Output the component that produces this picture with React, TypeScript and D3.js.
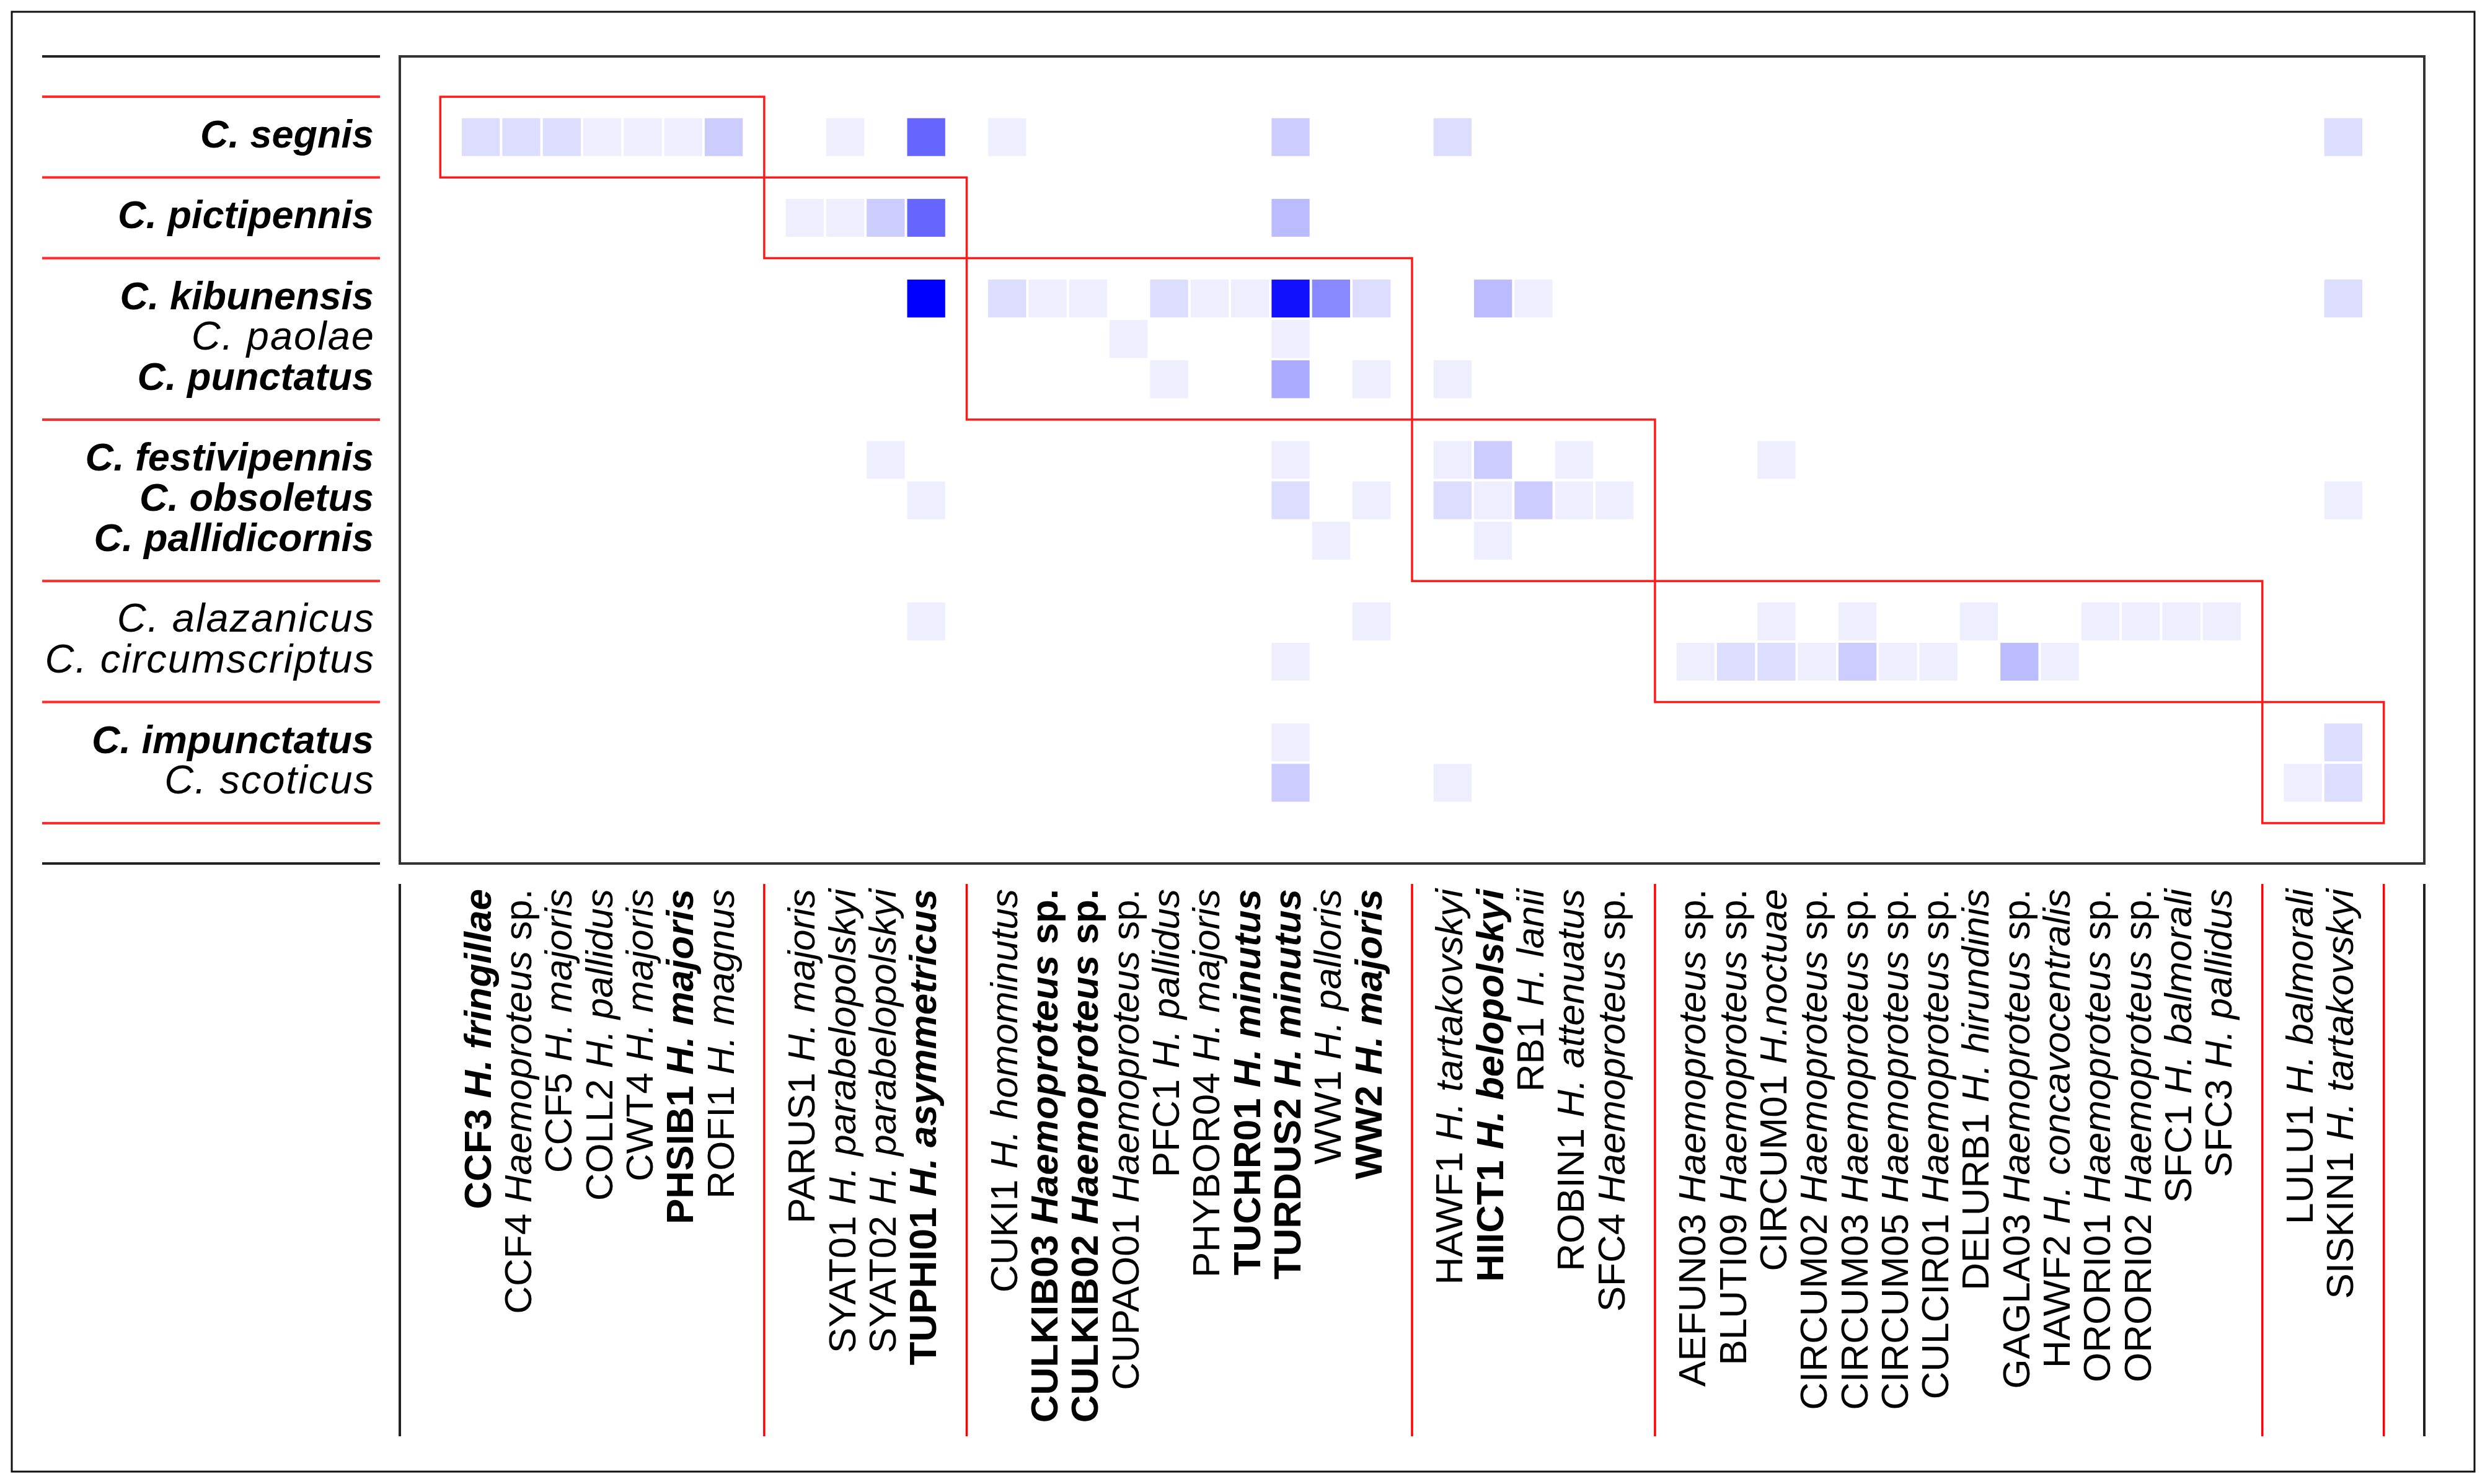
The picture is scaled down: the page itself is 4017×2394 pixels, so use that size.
import React from "react";
import * as d3 from "d3";

const W = 4017;
const H = 2394;
const FONT = "'Liberation Sans', Arial, Helvetica, sans-serif";

// ---- rows (vectors) ----
const rowNames = [
  "C. segnis", "C. pictipennis",
  "C. kibunensis", "C. paolae", "C. punctatus",
  "C. festivipennis", "C. obsoletus", "C. pallidicornis",
  "C. alazanicus", "C. circumscriptus",
  "C. impunctatus", "C. scoticus",
];
const rowBold = [true, true, true, false, true, true, true, true, false, false, true, false];
const rowGroupSizes = [1, 1, 3, 3, 2, 2];

// ---- columns (lineages) ----
const colIds = [
  "CCF3", "CCF4", "CCF5", "COLL2", "CWT4", "PHSIB1", "ROFI1",
  "PARUS1", "SYAT01", "SYAT02", "TUPHI01",
  "CUKI1", "CULKIB03", "CULKIB02", "CUPAO01", "PFC1", "PHYBOR04", "TUCHR01", "TURDUS2", "WW1", "WW2",
  "HAWF1", "HIICT1", "RB1", "ROBIN1", "SFC4",
  "AEFUN03", "BLUTI09", "CIRCUM01", "CIRCUM02", "CIRCUM03", "CIRCUM05", "CULCIR01", "DELURB1", "GAGLA03", "HAWF2", "ORORI01", "ORORI02", "SFC1", "SFC3",
  "LULU1", "SISKIN1",
];
const colSpecies = [
  "H. fringillae", "Haemoproteus sp.", "H. majoris", "H. pallidus", "H. majoris", "H. majoris", "H. magnus",
  "H. majoris", "H. parabelopolskyi", "H. parabelopolskyi", "H. asymmetricus",
  "H. homominutus", "Haemoproteus sp.", "Haemoproteus sp.", "Haemoproteus sp.", "H. pallidus", "H. majoris", "H. minutus", "H. minutus", "H. palloris", "H. majoris",
  "H. tartakovskyi", "H. belopolskyi", "H. lanii", "H. attenuatus", "Haemoproteus sp.",
  "Haemoproteus sp.", "Haemoproteus sp.", "H.noctuae", "Haemoproteus sp.", "Haemoproteus sp.", "Haemoproteus sp.", "Haemoproteus sp.", "H. hirundinis", "Haemoproteus sp.", "H. concavocentralis", "Haemoproteus sp.", "Haemoproteus sp.", "H. balmorali", "H. pallidus",
  "H. balmorali", "H. tartakovskyi",
];
const colBold = [
  true, false, false, false, false, true, false,
  false, false, false, true,
  false, true, true, false, false, false, true, true, false, true,
  false, true, false, false, false,
  false, false, false, false, false, false, false, false, false, false, false, false, false, false,
  false, false,
];
const colGroupSizes = [7, 4, 10, 5, 14, 2];

// ---- counts per vector row (42 lineages each) ----
const segnis =         [2, 2, 2, 1, 1, 1, 3, 0, 1, 0, 9, 1, 0, 0, 0, 0, 0, 0, 3, 0, 0, 2, 0, 0, 0, 0, 0, 0, 0, 0, 0, 0, 0, 0, 0, 0, 0, 0, 0, 0, 0, 2];
const pictipennis =    [0, 0, 0, 0, 0, 0, 0, 1, 1, 3, 9, 0, 0, 0, 0, 0, 0, 0, 4, 0, 0, 0, 0, 0, 0, 0, 0, 0, 0, 0, 0, 0, 0, 0, 0, 0, 0, 0, 0, 0, 0, 0];
const kibunensis =     [0, 0, 0, 0, 0, 0, 0, 0, 0, 0, 15, 2, 1, 1, 0, 2, 1, 1, 14, 7, 2, 0, 4, 1, 0, 0, 0, 0, 0, 0, 0, 0, 0, 0, 0, 0, 0, 0, 0, 0, 0, 2];
const paolae =         [0, 0, 0, 0, 0, 0, 0, 0, 0, 0, 0, 0, 0, 0, 1, 0, 0, 0, 1, 0, 0, 0, 0, 0, 0, 0, 0, 0, 0, 0, 0, 0, 0, 0, 0, 0, 0, 0, 0, 0, 0, 0];
const punctatus =      [0, 0, 0, 0, 0, 0, 0, 0, 0, 0, 0, 0, 0, 0, 0, 1, 0, 0, 5, 0, 1, 1, 0, 0, 0, 0, 0, 0, 0, 0, 0, 0, 0, 0, 0, 0, 0, 0, 0, 0, 0, 0];
const festivipennis =  [0, 0, 0, 0, 0, 0, 0, 0, 0, 1, 0, 0, 0, 0, 0, 0, 0, 0, 1, 0, 0, 1, 3, 0, 1, 0, 0, 0, 1, 0, 0, 0, 0, 0, 0, 0, 0, 0, 0, 0, 0, 0];
const obsoletus =      [0, 0, 0, 0, 0, 0, 0, 0, 0, 0, 1, 0, 0, 0, 0, 0, 0, 0, 2, 0, 1, 2, 1, 3, 1, 1, 0, 0, 0, 0, 0, 0, 0, 0, 0, 0, 0, 0, 0, 0, 0, 1];
const pallidicornis =  [0, 0, 0, 0, 0, 0, 0, 0, 0, 0, 0, 0, 0, 0, 0, 0, 0, 0, 0, 1, 0, 0, 1, 0, 0, 0, 0, 0, 0, 0, 0, 0, 0, 0, 0, 0, 0, 0, 0, 0, 0, 0];
const alazanicus =     [0, 0, 0, 0, 0, 0, 0, 0, 0, 0, 1, 0, 0, 0, 0, 0, 0, 0, 0, 0, 1, 0, 0, 0, 0, 0, 0, 0, 1, 0, 1, 0, 0, 1, 0, 0, 1, 1, 1, 1, 0, 0];
const circumscriptus = [0, 0, 0, 0, 0, 0, 0, 0, 0, 0, 0, 0, 0, 0, 0, 0, 0, 0, 1, 0, 0, 0, 0, 0, 0, 0, 1, 2, 2, 1, 3, 1, 1, 0, 4, 1, 0, 0, 0, 0, 0, 0];
const impunctatus =    [0, 0, 0, 0, 0, 0, 0, 0, 0, 0, 0, 0, 0, 0, 0, 0, 0, 0, 1, 0, 0, 0, 0, 0, 0, 0, 0, 0, 0, 0, 0, 0, 0, 0, 0, 0, 0, 0, 0, 0, 0, 2];
const scoticus =       [0, 0, 0, 0, 0, 0, 0, 0, 0, 0, 0, 0, 0, 0, 0, 0, 0, 0, 3, 0, 0, 1, 0, 0, 0, 0, 0, 0, 0, 0, 0, 0, 0, 0, 0, 0, 0, 0, 0, 0, 1, 2];

const matrix = [
  segnis, pictipennis, kibunensis, paolae, punctatus, festivipennis,
  obsoletus, pallidicornis, alazanicus, circumscriptus, impunctatus, scoticus,
];

// layout helpers: each group gets one extra unit of padding
function groupLayout(sizes: number[]) {
  const starts: number[] = [];
  const pos: number[] = [];
  let s = 1;
  sizes.forEach((n) => {
    starts.push(s);
    for (let i = 0; i < n; i++) pos.push(s + 1 + i);
    s += n + 1;
  });
  return { starts, end: s, pos, total: s + 1 };
}

export default function App() {
  const cols = groupLayout(colGroupSizes);
  const rows = groupLayout(rowGroupSizes);

  const plotL = 645, plotR = 3911, plotT = 91, plotB = 1393;
  const x = d3.scaleLinear().domain([0, cols.total]).range([plotL, plotR]);
  const y = d3.scaleLinear().domain([0, rows.total]).range([plotT, plotB]);
  const color = d3.scaleLinear<string>().domain([0, 15]).range(["#ffffff", "#0000ff"]).interpolate(d3.interpolateRgb);

  const uw = x(1) - x(0);
  const uh = y(1) - y(0);
  const gap = 4;

  const cells: JSX.Element[] = [];
  matrix.forEach((r, ri) => {
    r.forEach((v, ci) => {
      if (!v) return;
      cells.push(
        <rect key={`c${ri}-${ci}`}
          x={x(cols.pos[ci] - 0.5) + gap / 2} y={y(rows.pos[ri] - 0.5) + gap / 2}
          width={uw - gap} height={uh - gap} fill={color(v)} />
      );
    });
  });

  // red boxes along diagonal
  const boxes = colGroupSizes.map((n, g) => {
    const x0 = x(cols.starts[g]);
    const x1 = x(cols.starts[g] + n + 1);
    const y0 = y(rows.starts[g]);
    const y1 = y(rows.starts[g] + rowGroupSizes[g] + 1);
    return <rect key={`b${g}`} x={x0} y={y0} width={x1 - x0} height={y1 - y0} fill="none" stroke="#ff1a1a" strokeWidth={3.5} />;
  });

  // left horizontal separators
  const hLines = [0, ...rows.starts, rows.end, rows.total];
  const leftLines = hLines.map((u, i) => {
    const black = i === 0 || i === hLines.length - 1;
    return <line key={`h${i}`} x1={68} x2={613} y1={y(u)} y2={y(u)} stroke={black ? "#222" : "#ff2a2a"} strokeWidth={4} />;
  });

  // bottom vertical separators
  const vUnits = [0, ...cols.starts.slice(1), cols.end, cols.total];
  const botLines = vUnits.map((u, i) => {
    const black = i === 0 || i === vUnits.length - 1;
    return <line key={`v${i}`} x1={x(u)} x2={x(u)} y1={1426} y2={2317} stroke={black ? "#222" : "#ff0000"} strokeWidth={black ? 4 : 3.5} />;
  });

  const rowLabels = rowNames.map((name, i) => (
    <text key={`r${i}`} x={rowBold[i] ? 603 : 605} y={y(rows.pos[i]) + 17} textAnchor="end"
      fontFamily={FONT} fontSize={rowBold[i] ? 63 : 65} letterSpacing={rowBold[i] ? 0 : 2}
      fontStyle="italic" fontWeight={rowBold[i] ? "bold" : "normal"} fill="#000">
      {name}
    </text>
  ));

  const xFont = 62;
  const colLabels = colIds.map((id, i) => {
    const sp = colSpecies[i];
    const isSp = sp.endsWith(" sp.");
    const italicPart = isSp ? sp.slice(0, -4) : sp;
    const cx = x(cols.pos[i]) + 16;
    return (
      <text key={`l${i}`} transform={`translate(${cx},1434) rotate(-90)`} textAnchor="end"
        fontFamily={FONT} fontSize={xFont} fontWeight={colBold[i] ? "bold" : "normal"} fill="#000">
        <tspan>{id + " "}</tspan>
        <tspan fontStyle="italic">{italicPart}</tspan>
        {isSp ? <tspan>{" sp."}</tspan> : null}
      </text>
    );
  });

  return (
    <svg width={W} height={H} viewBox={`0 0 ${W} ${H}`}
      style={{ position: "absolute", left: 0, top: 0, background: "#fff" }}>
      <rect x={0} y={0} width={W} height={H} fill="#fff" />
      <rect x={19} y={19} width={3973} height={2355} fill="none" stroke="#111" strokeWidth={3} />
      {cells}
      <rect x={plotL} y={plotT} width={plotR - plotL} height={plotB - plotT} fill="none" stroke="#333" strokeWidth={4} />
      {boxes}
      {leftLines}
      {botLines}
      {rowLabels}
      {colLabels}
    </svg>
  );
}
